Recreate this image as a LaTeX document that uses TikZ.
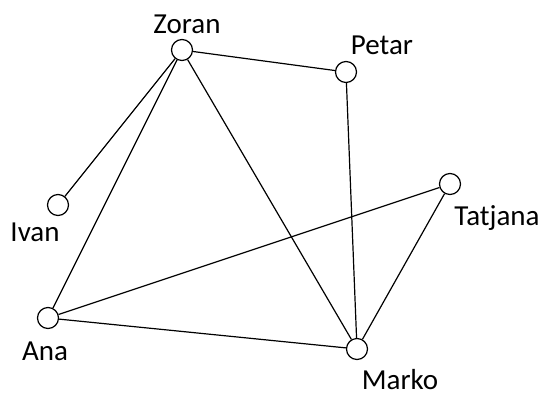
\documentclass[tikz,border=0pt]{standalone}
\usepackage{fontspec}
\setmainfont{Carlito}
\usetikzlibrary{positioning}

\begin{document}
\begin{tikzpicture}[x=1pt,y=-1pt,line width=1.2pt,
                    person/.style={circle,draw,inner sep=0pt,minimum size=21pt},
                    nametag/.style={inner sep=0pt,font=\fontsize{29}{33}\selectfont}]
  \useasboundingbox (0,0) rectangle (544,397);

  \node[person] (zoran)   at (182,50)  {};
  \node[person] (petar)   at (346,72)  {};
  \node[person] (ivan)    at (58,205)  {};
  \node[person] (tatjana) at (450,184) {};
  \node[person] (ana)     at (48,318)  {};
  \node[person] (marko)   at (357,349) {};

  \node[nametag] (zoranlbl)   at (187,24)  {Zoran};
  \node[nametag] (petarlbl)   at (382,45)  {Petar};
  \node[nametag] (ivanlbl)    at (35,232)  {Ivan};
  \node[nametag] (tatjanalbl) at (497,218) {Tatjana};
  \node[nametag] (analbl)     at (45,351)  {Ana};
  \node[nametag] (markolbl)   at (400,380) {Marko};

  \path (zoran) edge (petar)
                edge (ivan)
                edge (ana)
                edge (marko)
        (petar) edge (marko)
        (tatjana) edge (ana)
                  edge (marko)
        (ana) edge (marko)
        ;
\end{tikzpicture}
\end{document}
